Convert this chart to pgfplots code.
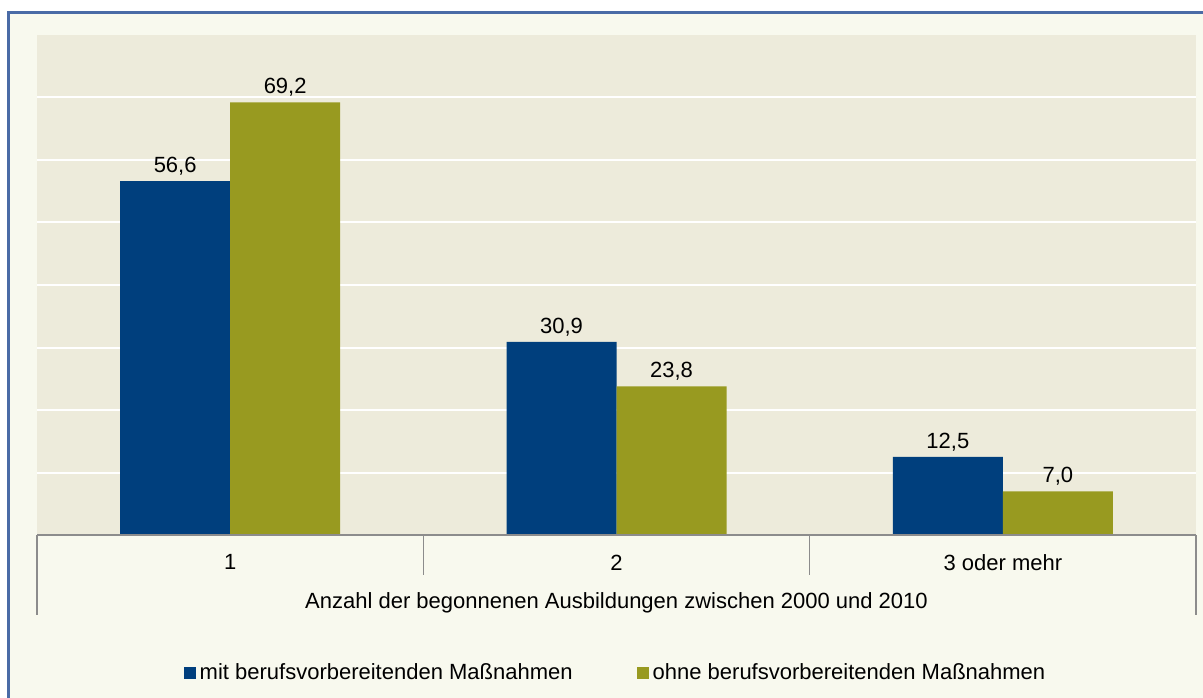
\documentclass[border=0pt]{standalone}
\usepackage{pgfplots}
\pgfplotsset{compat=1.18}
\usepackage{fontspec}
\setmainfont{Liberation Sans}
\definecolor{barblue}{RGB}{0,63,125}
\definecolor{bargreen}{RGB}{152,154,32}
\definecolor{plotbg}{RGB}{237,235,219}
\definecolor{outerbg}{RGB}{248,249,238}
\definecolor{frameblue}{RGB}{74,107,166}
\definecolor{sepgray}{RGB}{140,140,140}
\begin{document}
\fontsize{11}{13}\selectfont
\begin{tikzpicture}[x=0.5pt,y=0.5pt]
\useasboundingbox (0,0) rectangle (1203,697);
\begin{scope}
\clip (0,0) rectangle (1203,697);
\fill[outerbg] (8,-20) rectangle (1230,684);
\draw[frameblue, line width=1.5pt] (8,-20) rectangle (1230,684);
\end{scope}
\begin{axis}[
  at={(18.5pt,81pt)}, anchor=south west,
  scale only axis, width=579.5pt, height=250pt,
  ybar=0pt, bar width=55pt,
  xmin=-0.5, xmax=2.5, ymin=0, ymax=80,
  axis background/.style={fill=plotbg},
  axis line style={draw=none},
  ytick={10,20,30,40,50,60,70}, yticklabels={},
  ymajorgrids, grid style={white, line width=1pt},
  major tick length=0pt,
  xtick={0,1,2}, xticklabels={1,2,3 oder mehr},
  xticklabel style={yshift=-6pt, font=\fontsize{11}{13}\selectfont},
  clip=false,
  nodes near coords,
  nodes near coords style={font=\fontsize{11}{13}\selectfont, black, yshift=-1pt,
    /pgf/number format/.cd, use comma, fixed, fixed zerofill, precision=1, assume math mode=true},
  legend columns=2,
  legend style={at={(0.5,-0.276)}, anchor=center, draw=none, fill=none,
    font=\fontsize{11}{13}\selectfont,
    /tikz/every even column/.append style={column sep=30pt},
    /tikz/every odd column/.append style={column sep=0pt}},
  legend image code/.code={\fill[#1] (0pt,-3pt) rectangle (6pt,3pt);},
]
\addplot[fill=barblue, draw=none] coordinates {(0,56.6) (1,30.9) (2,12.5)};
\addplot[fill=bargreen, draw=none] coordinates {(0,69.2) (1,23.8) (2,7.0)};
\legend{mit berufsvorbereitenden Maßnahmen, ohne berufsvorbereitenden Maßnahmen}
\draw[sepgray, line width=0.6pt] (axis cs:-0.5,0) -- (axis cs:2.5,0);
\draw[sepgray, line width=0.6pt] (axis cs:-0.5,0) -- ([yshift=-40pt]axis cs:-0.5,0);
\draw[sepgray, line width=0.6pt] (axis cs:2.5,0) -- ([yshift=-40pt]axis cs:2.5,0);
\draw[sepgray, line width=0.6pt] (axis cs:0.5,0) -- ([yshift=-20pt]axis cs:0.5,0);
\draw[sepgray, line width=0.6pt] (axis cs:1.5,0) -- ([yshift=-20pt]axis cs:1.5,0);
\node[font=\fontsize{11}{13}\selectfont] at ([yshift=-34pt]axis description cs:0.5,0) {Anzahl der begonnenen Ausbildungen zwischen 2000 und 2010};
\end{axis}
\end{tikzpicture}
\end{document}
